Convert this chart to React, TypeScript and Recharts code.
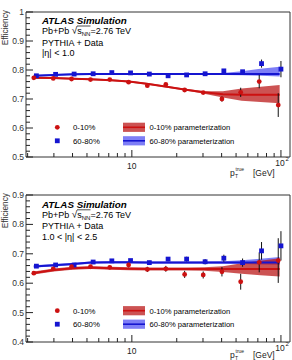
import React from 'react';
import { ComposedChart, XAxis, YAxis, Line, Area, Scatter, ErrorBar, ReferenceArea, Customized } from 'recharts';

const FONT = '"Liberation Sans", Arial, Helvetica, sans-serif';
const RED = '#cc1111';
const BLUE = '#1515d0';
const RED_BAND = '#bb1a1a';
const BLUE_BAND = '#2828f0';
const INK = '#222';

// measured points (pT in GeV)
const ptRed = [2.2, 2.97, 3.94, 5.28, 7.11, 9.51, 12.7, 16.9, 22.6, 30.1, 40.2, 53.7, 71.5, 95.9];
const ptBlue = [2.29, 3.08, 4.1, 5.5, 7.34, 9.8, 13.1, 17.5, 23.3, 31.0, 41.4, 55.3, 74.1, 100];

const effRedTop = [0.773, 0.771, 0.769, 0.767, 0.767, 0.758, 0.746, 0.75, 0.731, 0.722, 0.7, 0.723, 0.76, 0.679];
const errRedTop = [0.002, 0.002, 0.002, 0.002, 0.002, 0.003, 0.003, 0.004, 0.004, 0.005, 0.009, 0.016, 0.023, 0.041];
const effBlueTop = [0.78, 0.785, 0.786, 0.787, 0.791, 0.79, 0.786, 0.78, 0.783, 0.787, 0.797, 0.794, 0.822, 0.803];
const errBlueTop = [0.002, 0.002, 0.002, 0.002, 0.002, 0.002, 0.003, 0.003, 0.003, 0.004, 0.005, 0.006, 0.014, 0.028];

const effRedBot = [0.634, 0.649, 0.656, 0.656, 0.654, 0.662, 0.647, 0.649, 0.63, 0.628, 0.639, 0.605, 0.671, 0.677];
const errRedBot = [0.004, 0.004, 0.004, 0.005, 0.006, 0.008, 0.009, 0.01, 0.012, 0.012, 0.016, 0.027, 0.034, 0.076];
const effBlueBot = [0.658, 0.662, 0.662, 0.672, 0.676, 0.677, 0.67, 0.682, 0.682, 0.673, 0.685, 0.67, 0.71, 0.727];
const errBlueBot = [0.003, 0.003, 0.003, 0.004, 0.004, 0.005, 0.006, 0.007, 0.008, 0.009, 0.012, 0.014, 0.03, 0.05];

// parameterizations
const ptParam = [2.2, 3.0, 4.0, 5.3, 7.2, 9.6, 12.9, 17.2, 23.0, 30.5, 40.8, 54.5, 72.8, 98.0];

const redTopLine = [0.773, 0.772, 0.77, 0.768, 0.765, 0.76, 0.752, 0.742, 0.732, 0.723, 0.716, 0.715, 0.715, 0.715];
const redTopLo = [0.77, 0.769, 0.767, 0.765, 0.762, 0.757, 0.749, 0.739, 0.729, 0.718, 0.705, 0.694, 0.69, 0.685];
const redTopHi = [0.776, 0.775, 0.773, 0.771, 0.768, 0.763, 0.755, 0.745, 0.735, 0.727, 0.727, 0.736, 0.742, 0.748];
const blueTopLine = [0.78, 0.783, 0.785, 0.786, 0.786, 0.786, 0.786, 0.786, 0.786, 0.786, 0.786, 0.786, 0.786, 0.786];
const blueTopLo = [0.777, 0.78, 0.782, 0.783, 0.783, 0.783, 0.783, 0.783, 0.783, 0.783, 0.783, 0.782, 0.78, 0.778];
const blueTopHi = [0.783, 0.786, 0.788, 0.789, 0.789, 0.789, 0.789, 0.789, 0.789, 0.789, 0.79, 0.796, 0.804, 0.811];

const redBotLine = [0.635, 0.645, 0.651, 0.653, 0.651, 0.649, 0.648, 0.648, 0.648, 0.648, 0.648, 0.648, 0.648, 0.648];
const redBotLo = [0.63, 0.64, 0.646, 0.648, 0.646, 0.644, 0.643, 0.643, 0.643, 0.642, 0.638, 0.632, 0.627, 0.623];
const redBotHi = [0.64, 0.65, 0.656, 0.658, 0.656, 0.654, 0.653, 0.653, 0.653, 0.654, 0.658, 0.668, 0.676, 0.685];
const blueBotLine = [0.657, 0.661, 0.665, 0.67, 0.671, 0.671, 0.67, 0.67, 0.67, 0.67, 0.67, 0.67, 0.67, 0.67];
const blueBotLo = [0.653, 0.657, 0.661, 0.666, 0.667, 0.667, 0.666, 0.666, 0.666, 0.666, 0.666, 0.665, 0.664, 0.663];
const blueBotHi = [0.661, 0.665, 0.669, 0.674, 0.675, 0.675, 0.674, 0.674, 0.674, 0.674, 0.675, 0.678, 0.683, 0.689];

// axes
const xDomain = [1.95, 115];
const xTicks = [2, 3, 4, 5, 6, 7, 8, 9, 10, 20, 30, 40, 50, 60, 70, 80, 90, 100];
const yTicksTop = [0.5, 0.52, 0.54, 0.56, 0.58, 0.6, 0.62, 0.64, 0.66, 0.68, 0.7, 0.72, 0.74, 0.76, 0.78, 0.8, 0.82, 0.84, 0.86, 0.88, 0.9, 0.92, 0.94, 0.96, 0.98, 1.0];
const yTicksBot = [0.4, 0.42, 0.44, 0.46, 0.48, 0.5, 0.52, 0.54, 0.56, 0.58, 0.6, 0.62, 0.64, 0.66, 0.68, 0.7, 0.72, 0.74, 0.76, 0.78, 0.8, 0.82, 0.84, 0.86, 0.88, 0.9];
const yMajorTop = [0.5, 0.6, 0.7, 0.8, 0.9, 1.0];
const yMajorBot = [0.4, 0.5, 0.6, 0.7, 0.8, 0.9];

const legendLabels = ['0-10%', '60-80%', '0-10% parameterization', '60-80% parameterization'];

const isMajor = (v: number, majors: number[]) => majors.some((m) => Math.abs(m - v) < 1e-6);

const XTick = (props: any) => {
  const { x, y, payload } = props;
  const v = payload.value;
  const major = v === 10 || v === 100;
  const len = major ? 7 : 4;
  return (
    <g>
      <line x1={x} y1={y} x2={x} y2={y - len} stroke={INK} strokeWidth={1} />
      {v === 10 && (
        <text x={x} y={y + 11.5} textAnchor="middle" fontSize={8.5} fontFamily={FONT} fill={INK}>10</text>
      )}
      {v === 100 && (
        <g>
          <text x={x - 1} y={y + 8.8} textAnchor="middle" fontSize={8.5} fontFamily={FONT} fill={INK}>10</text>
          <text x={x + 4.5} y={y + 4} textAnchor="start" fontSize={6} fontFamily={FONT} fill={INK}>2</text>
        </g>
      )}
    </g>
  );
};

const makeYTick = (majors: number[]) => (props: any) => {
  const { x, y, payload } = props;
  const v = payload.value;
  const major = isMajor(v, majors);
  const label = Math.abs(v - 1) < 1e-6 ? '1' : v.toFixed(1);
  return (
    <g>
      <line x1={x} y1={y} x2={x + (major ? 7 : 4)} y2={y} stroke={INK} strokeWidth={1} />
      {major && (
        <text x={x - 2} y={y + 3} textAnchor="end" fontSize={8.5} fontFamily={FONT} fill="#333">{label}</text>
      )}
    </g>
  );
};

const redDot = (p: any) => <circle cx={p.cx} cy={p.cy} r={2.4} fill={RED} />;
const blueSq = (p: any) => <rect x={p.cx - 2.4} y={p.cy - 2.4} width={4.8} height={4.8} fill={BLUE} />;

type PanelProps = {
  top: number;
  height: number;
  marginTop: number;
  xAxisHeight: number;
  yDomain: number[];
  yTicks: number[];
  yMajor: number[];
  effRed: number[];
  errRed: number[];
  effBlue: number[];
  errBlue: number[];
  redLine: number[];
  redLo: number[];
  redHi: number[];
  blueLine: number[];
  blueLo: number[];
  blueHi: number[];
  etaLabel: string;
  textTop: number;
  legendY: number;
  effTop: number;
  xLabelY: number;
};

const Panel = (p: PanelProps) => {
  const table = ptParam.map((pt, i) => ({
    pt,
    redLine: p.redLine[i],
    redBand: [p.redLo[i], p.redHi[i]],
    blueLine: p.blueLine[i],
    blueBand: [p.blueLo[i], p.blueHi[i]],
  }));
  const red = ptRed.map((pt, i) => ({ pt, eff: p.effRed[i], err: p.errRed[i] }));
  const blue = ptBlue.map((pt, i) => ({ pt, eff: p.effBlue[i], err: p.errBlue[i] }));
  const t = p.textTop;
  const ly = p.legendY;
  const Texts = () => (
    <g fontFamily={FONT} fill="#000">
      <text x={42} y={t} fontSize={9.8} fontWeight="bold" fontStyle="italic">ATLAS Simulation</text>
      <text x={42} y={t + 10} fontSize={9}>
        <tspan>Pb+Pb </tspan>
        <tspan fontSize={10}>√</tspan>
        <tspan>s</tspan>
        <tspan fontSize={6} dy={2}>NN</tspan>
        <tspan dy={-2}>=2.76 TeV</tspan>
      </text>
      <line x1={77} y1={t + 10 - 8} x2={90.5} y2={t + 10 - 8} stroke="#000" strokeWidth={0.7} />
      <text x={42} y={t + 21.5} fontSize={9}>PYTHIA + Data</text>
      <text x={42} y={t + 32} fontSize={9}>{p.etaLabel}</text>

      <circle cx={57.3} cy={ly} r={2.4} fill={RED} />
      <rect x={54.9} y={ly + 13.5 - 2.4} width={4.8} height={4.8} fill={BLUE} />
      <text x={73} y={ly + 2.8} fontSize={7.8}>{legendLabels[0]}</text>
      <text x={73} y={ly + 16.3} fontSize={7.8}>{legendLabels[1]}</text>
      <rect x={123} y={ly - 4.6} width={22} height={9.2} fill={RED_BAND} fillOpacity={0.75} />
      <line x1={123} y1={ly} x2={145} y2={ly} stroke={RED} strokeWidth={1.6} />
      <rect x={123} y={ly + 13.5 - 4.6} width={22} height={9.2} fill={BLUE_BAND} fillOpacity={0.6} />
      <line x1={123} y1={ly + 13.5} x2={145} y2={ly + 13.5} stroke={BLUE} strokeWidth={1.6} />
      <text x={149.5} y={ly + 2.8} fontSize={7.6}>{legendLabels[2]}</text>
      <text x={149.5} y={ly + 16.3} fontSize={7.6}>{legendLabels[3]}</text>

      <text transform={`translate(8.3,${p.effTop}) rotate(-90)`} textAnchor="end" fontSize={8.3} fill="#333">Efficiency</text>

      <text x={230} y={p.xLabelY} fontSize={8.5} fill={INK}>p</text>
      <text x={235} y={p.xLabelY + 2.3} fontSize={5} fill={INK}>T</text>
      <text x={235.5} y={p.xLabelY - 5} fontSize={5} fill={INK}>true</text>
      <text x={253} y={p.xLabelY} fontSize={8.5} fill={INK}>[GeV]</text>
    </g>
  );
  return (
    <div style={{ position: 'absolute', left: 0, top: p.top, width: 292, height: p.height }}>
      <ComposedChart width={292} height={p.height} data={table} margin={{ top: p.marginTop, right: 2, bottom: 0, left: 0 }}>
        <XAxis
          type="number"
          dataKey="pt"
          scale="log"
          domain={xDomain}
          allowDataOverflow
          ticks={xTicks}
          interval={0}
          tick={(tp: any) => <XTick {...tp} />}
          tickLine={false}
          axisLine={false}
          tickSize={0}
          tickMargin={0}
          height={p.xAxisHeight}
        />
        <YAxis
          type="number"
          domain={p.yDomain}
          allowDataOverflow
          ticks={p.yTicks}
          interval={0}
          tick={makeYTick(p.yMajor)}
          tickLine={false}
          axisLine={false}
          tickSize={0}
          tickMargin={0}
          width={26}
        />
        <Area dataKey="blueBand" type="linear" stroke="none" fill={BLUE_BAND} fillOpacity={0.6} isAnimationActive={false} />
        <Area dataKey="redBand" type="linear" stroke="none" fill={RED_BAND} fillOpacity={0.75} isAnimationActive={false} />
        <Line dataKey="blueLine" type="linear" stroke={BLUE} strokeWidth={2} dot={false} isAnimationActive={false} />
        <Line dataKey="redLine" type="linear" stroke={RED} strokeWidth={2} dot={false} isAnimationActive={false} />
        <Scatter data={blue} dataKey="eff" shape={blueSq} isAnimationActive={false}>
          <ErrorBar dataKey="err" direction="y" width={0} stroke="#111" strokeWidth={1} />
        </Scatter>
        <Scatter data={red} dataKey="eff" shape={redDot} isAnimationActive={false}>
          <ErrorBar dataKey="err" direction="y" width={0} stroke="#111" strokeWidth={1} />
        </Scatter>
        <ReferenceArea x1={xDomain[0]} x2={xDomain[1]} y1={p.yDomain[0]} y2={p.yDomain[1]} fill="none" stroke="#333" strokeWidth={1} ifOverflow="visible" />
        <Customized component={Texts} />
      </ComposedChart>
    </div>
  );
}

export default function App() {
  return (
    <div style={{ position: 'absolute', left: 0, top: 0, width: 292, height: 360, background: '#fff', overflow: 'hidden' }}>
      <Panel
        top={180}
        height={180}
        marginTop={15}
        xAxisHeight={18}
        yDomain={[0.4, 0.9]}
        yTicks={yTicksBot}
        yMajor={yMajorBot}
        effRed={effRedBot}
        errRed={errRedBot}
        effBlue={effBlueBot}
        errBlue={errBlueBot}
        redLine={redBotLine}
        redLo={redBotLo}
        redHi={redBotHi}
        blueLine={blueBotLine}
        blueLo={blueBotLo}
        blueHi={blueBotHi}
        etaLabel="1.0 < |η| < 2.5"
        textTop={27.8}
        legendY={130.7}
        effTop={13}
        xLabelY={178}
      />
      <Panel
        top={0}
        height={190}
        marginTop={12}
        xAxisHeight={33}
        yDomain={[0.5, 1.0]}
        yTicks={yTicksTop}
        yMajor={yMajorTop}
        effRed={effRedTop}
        errRed={errRedTop}
        effBlue={effBlueTop}
        errBlue={errBlueTop}
        redLine={redTopLine}
        redLo={redTopLo}
        redHi={redTopHi}
        blueLine={blueTopLine}
        blueLo={blueTopLo}
        blueHi={blueTopHi}
        etaLabel="|η| < 1.0"
        textTop={24}
        legendY={127.3}
        effTop={10}
        xLabelY={176}
      />
    </div>
  );
}
